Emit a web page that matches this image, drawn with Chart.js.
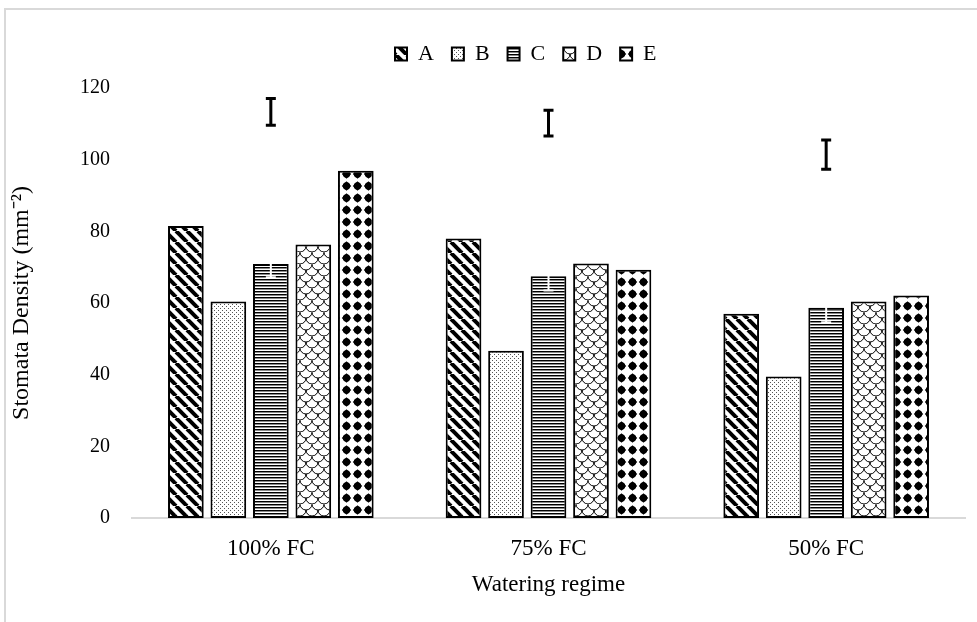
<!DOCTYPE html>
<html>
<head>
<meta charset="utf-8">
<script src="https://cdn.jsdelivr.net/npm/chart.js@4.4.0/dist/chart.umd.min.js"></script>
<style>
  html, body { margin: 0; padding: 0; background: #fff; }
  #wrap { width: 977px; height: 622px; }
</style>
</head>
<body>
<div id="wrap"><canvas id="c" width="977" height="622"></canvas></div>
<script>
// Stomata density per watering regime, five groups
const categories = ['100% FC', '75% FC', '50% FC'];
const seriesNames = ['A', 'B', 'C', 'D', 'E'];
const valuesA = [81.5, 78.0, 57.0];
const valuesB = [60.4, 46.7, 39.5];
const valuesC = [70.9, 67.5, 58.7];
const valuesD = [76.3, 71.0, 60.4];
const valuesE = [96.9, 69.3, 62.1];
// standard error on series C
const errC = [3.7, 4.0, 4.1];
// LSD bar drawn above each regime (low / high ends)
const lsdLow = [109.6, 106.6, 97.3];
const lsdHigh = [117.1, 113.8, 105.5];
const yTicks = [0, 20, 40, 60, 80, 100, 120];

const FONT = 'Liberation Serif, Times New Roman, serif';
const canvas = document.getElementById('c');
const ctx0 = canvas.getContext('2d');

function makePattern(w, h, draw) {
  const t = document.createElement('canvas');
  t.width = w; t.height = h;
  const g = t.getContext('2d');
  g.fillStyle = '#fff';
  g.fillRect(0, 0, w, h);
  g.fillStyle = '#000';
  g.strokeStyle = '#000';
  draw(g, w, h);
  return ctx0.createPattern(t, 'repeat');
}

// wide downward diagonal
const patA = makePattern(11, 11, (g, w, h) => {
  g.lineWidth = 4;
  for (const o of [-w, 0, w]) {
    g.beginPath(); g.moveTo(o, 0); g.lineTo(o + w, h); g.stroke();
  }
});
// small dots
const patB = makePattern(4, 4, (g) => {
  g.fillStyle = '#555';
  g.fillRect(0, 0, 1, 1);
  g.fillRect(2, 2, 1, 1);
});
// dense horizontal lines
const patC = makePattern(4, 3, (g) => {
  g.fillRect(0, 0, 4, 1);
  g.fillStyle = '#8a8a8a';
  g.fillRect(0, 1, 4, 1);
});
// scale / shingle outline
const patD = makePattern(12, 12, (g) => {
  g.lineWidth = 1;
  const arcs = [[6, 0], [0, 6], [12, 6], [6, 12]];
  for (const [cx, cy] of arcs) {
    g.beginPath(); g.arc(cx, cy, 6, 0, Math.PI); g.stroke();
  }
});
// solid blobs
const patE = makePattern(11, 12, (g) => {
  g.beginPath();
  g.arc(5.5, 6, 3.7, 0, Math.PI * 2);
  g.fill();
  g.beginPath();
  g.moveTo(5.5, 1.2); g.lineTo(10.2, 6); g.lineTo(5.5, 10.8); g.lineTo(0.8, 6);
  g.closePath(); g.fill();
});

const seriesValues = [valuesA, valuesB, valuesC, valuesD, valuesE];
const seriesPatterns = [patA, patB, patC, patD, patE];

const datasets = seriesNames.map((name, k) => ({
  label: name,
  data: seriesValues[k],
  backgroundColor: seriesPatterns[k],
  borderColor: '#000',
  borderWidth: 2,
  borderSkipped: false,
  categoryPercentage: 0.765,
  barPercentage: 0.84
}));

// light frame along the top and left edges
const frame = {
  id: 'frame',
  beforeDraw(chart) {
    const { ctx, width, height } = chart;
    ctx.save();
    ctx.fillStyle = '#fff';
    ctx.fillRect(0, 0, width, height);
    ctx.strokeStyle = '#d9d9d9';
    ctx.lineWidth = 2;
    ctx.beginPath();
    ctx.moveTo(5, height); ctx.lineTo(5, 9); ctx.lineTo(width, 9);
    ctx.stroke();
    ctx.restore();
  }
};

// legend block: fixed height and horizontal start
const legendPlace = {
  id: 'legendPlace',
  beforeInit(chart) {
    const legend = chart.legend;
    const fit = legend.fit;
    legend.fit = function () {
      fit.call(this);
      this.height = 63;
    };
  },
  afterLayout(chart) {
    const L = chart.legend;
    const pad = L.options.labels.padding;
    const startX = (L.left + pad + L.right - L.lineWidths[0]) / 2;
    const dx = 395 - startX;
    L.left += dx;
    L.right += dx;
  }
};

function drawI(ctx, x, yTop, yBot, half, color, lw) {
  ctx.strokeStyle = color;
  ctx.lineWidth = lw;
  ctx.beginPath();
  ctx.moveTo(x, yTop); ctx.lineTo(x, yBot);
  ctx.moveTo(x - half, yTop); ctx.lineTo(x + half, yTop);
  ctx.moveTo(x - half, yBot); ctx.lineTo(x + half, yBot);
  ctx.stroke();
}

const errorBars = {
  id: 'errorBars',
  afterDatasetsDraw(chart) {
    const ctx = chart.ctx;
    const y = chart.scales.y;
    const metaC = chart.getDatasetMeta(2);
    ctx.save();
    categories.forEach((_, i) => {
      const x = metaC.data[i].x;
      drawI(ctx, x, y.getPixelForValue(valuesC[i] + errC[i]), y.getPixelForValue(valuesC[i] - errC[i]), 5, '#fff', 2);
      drawI(ctx, x, y.getPixelForValue(lsdHigh[i]), y.getPixelForValue(lsdLow[i]), 5, '#000', 3);
    });
    ctx.restore();
  }
};

new Chart(canvas, {
  type: 'bar',
  data: { labels: categories, datasets },
  options: {
    responsive: false,
    animation: false,
    devicePixelRatio: 1,
    layout: { padding: { top: 25, right: 12, bottom: 0, left: 0 } },
    plugins: {
      legend: {
        position: 'top',
        labels: {
          font: { family: FONT, size: 22 },
          color: '#000',
          boxWidth: 12,
          boxHeight: 13,
          padding: 18
        }
      },
      tooltip: { enabled: false }
    },
    scales: {
      x: {
        grid: { display: false, drawTicks: false },
        border: { display: true, color: '#d9d9d9', width: 2 },
        ticks: { font: { family: FONT, size: 23 }, color: '#000', padding: 17 },
        title: {
          display: true,
          text: 'Watering regime',
          font: { family: FONT, size: 23 },
          color: '#000',
          padding: { top: 0, bottom: 23 }
        },
        afterFit(s) { s.height = 104; }
      },
      y: {
        min: 0,
        max: 120,
        afterBuildTicks(s) { s.ticks = yTicks.map(v => ({ value: v })); },
        grid: { display: false, drawTicks: false },
        border: { display: false },
        ticks: { font: { family: FONT, size: 20 }, color: '#000', padding: 22 },
        title: {
          display: true,
          text: 'Stomata Density (mm\u207B\u00B2)',
          font: { family: FONT, size: 24 },
          color: '#000',
          padding: { top: 7, bottom: 0 }
        },
        afterFit(s) { s.width = 132; }
      }
    }
  },
  plugins: [frame, legendPlace, errorBars]
});
</script>
</body>
</html>
